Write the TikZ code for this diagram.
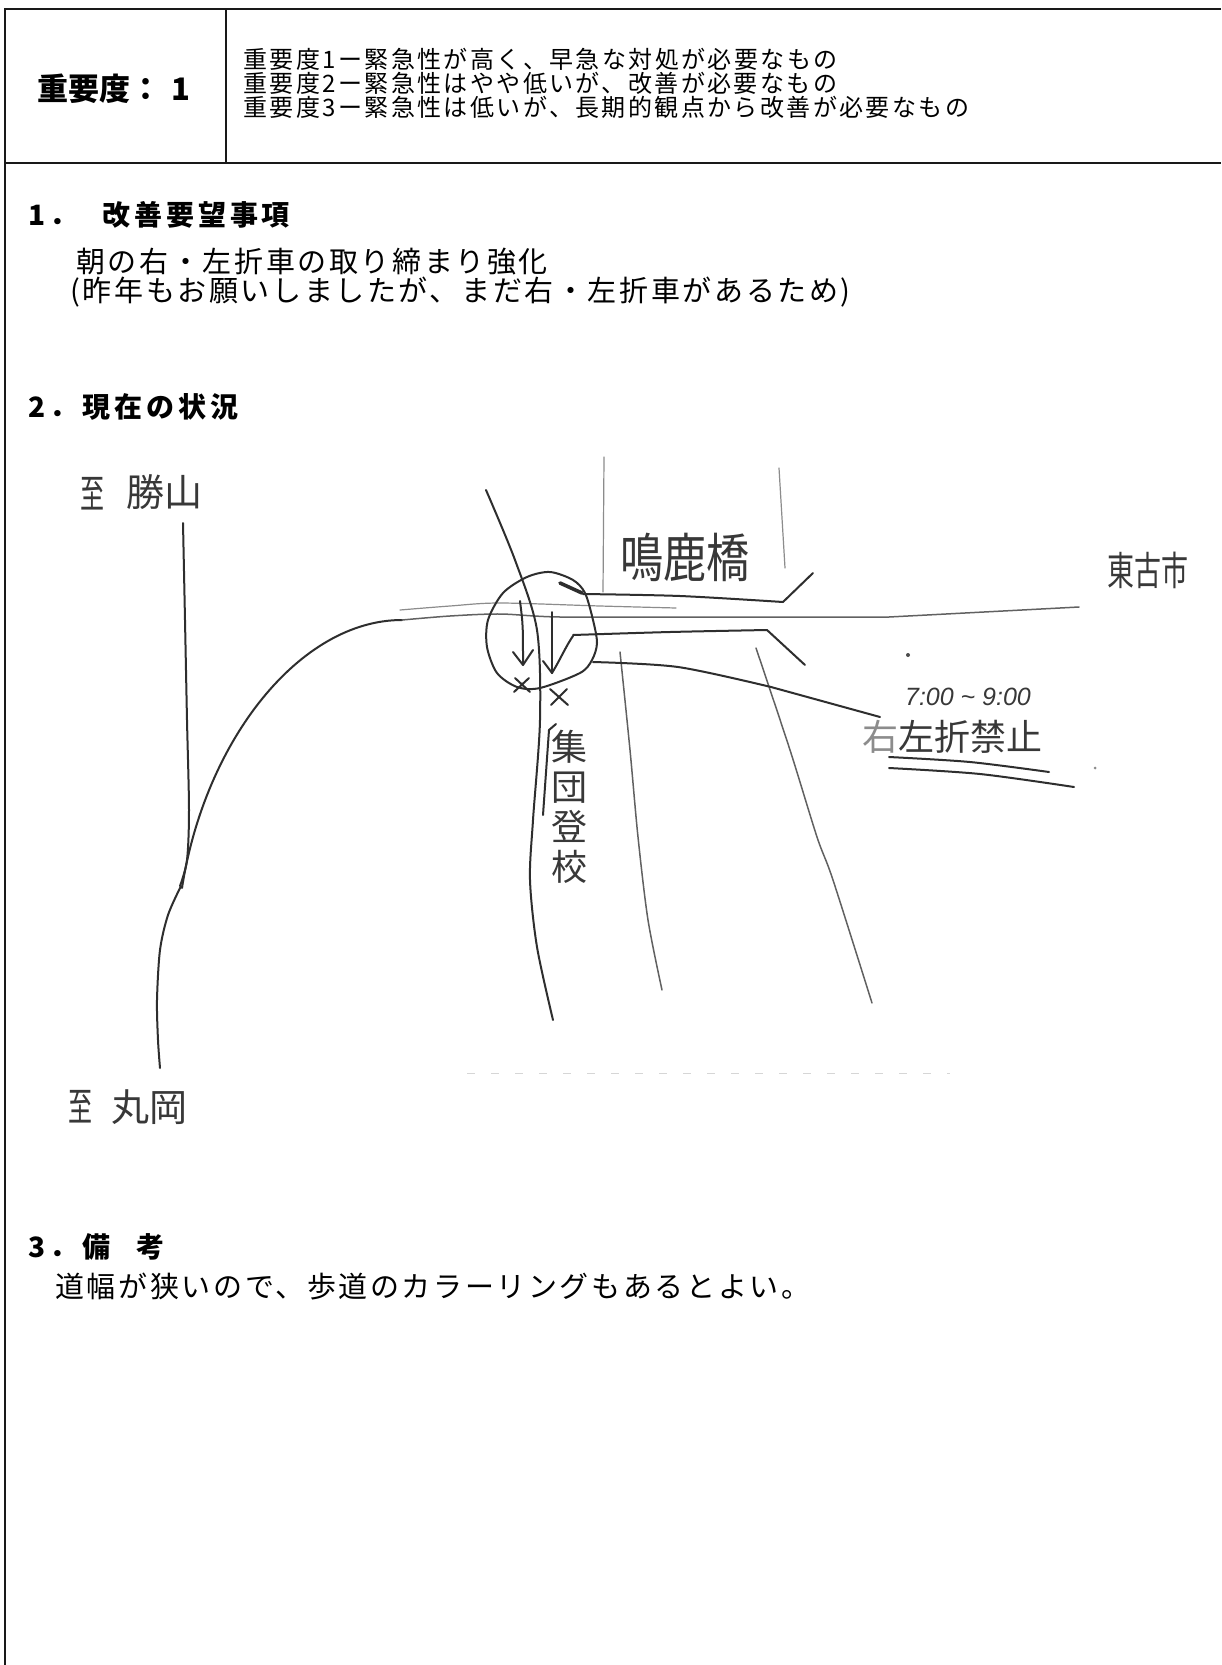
\documentclass[tikz,border=0pt]{standalone}
\usepackage{fontspec}
\setmainfont{Noto Sans CJK JP}
\newfontfamily\jpbody[LetterSpace=9]{Noto Sans CJK JP}
\newfontfamily\jphead[LetterSpace=14]{Noto Sans CJK JP}
\newfontfamily\jphdr[LetterSpace=10]{Noto Sans CJK JP}
\newfontfamily\jptitle{Noto Sans CJK JP}
\newfontfamily\jphand{Noto Sans CJK JP}
\newfontfamily\latinhand{Liberation Sans}
\tikzset{
  txt/.style={inner sep=0pt, anchor=base west},
  hand/.style={inner sep=0pt, text=black!78},
  dk/.style={draw=black!82, line width=1pt, line cap=round, line join=round},
  md/.style={draw=black!62, line width=0.75pt, line cap=round, line join=round},
  lt/.style={draw=black!45, line width=0.6pt, line cap=round, line join=round},
  frame/.style={draw=black!90, line width=1.3pt},
}
\begin{document}
\begin{tikzpicture}[x=0.5pt,y=-0.5pt]
\fill[white] (0,0) rectangle (1221,1665);
\useasboundingbox (0,0) rectangle (1221,1665);
% ---------- frame ----------
\draw[frame] (1221,9) -- (5,9) -- (5,1665);
\draw[frame] (5,163) -- (1221,163);
\draw[draw=black!90, line width=0.9pt] (226,9) -- (226,163);
% ---------- header ----------
\node[txt] (title) at (37,100.8) {\fontsize{15.5pt}{17pt}\jptitle\bfseries 重要度：\hspace{5pt}1};
\node[txt] (lv1) at (243,68.1) {\fontsize{12pt}{14pt}\jphdr 重要度1ー緊急性が高く、早急な対処が必要なもの};
\node[txt] (lv2) at (243,92.1) {\fontsize{12pt}{14pt}\jphdr 重要度2ー緊急性はやや低いが、改善が必要なもの};
\node[txt] (lv3) at (243,116.1) {\fontsize{12pt}{14pt}\jphdr 重要度3ー緊急性は低いが、長期的観点から改善が必要なもの};
% ---------- section 1 ----------
\node[txt] (h1n) at (28,225.6) {\fontsize{14pt}{16pt}\jphead\bfseries 1．};
\node[txt] (h1) at (102,225.6) {\fontsize{14pt}{16pt}\jphead\bfseries 改善要望事項};
\node[txt] (b1) at (76,272) {\fontsize{14.5pt}{16pt}\jpbody 朝の右・左折車の取り締まり強化};
\node[txt] (b2) at (70,301) {\fontsize{14.5pt}{16pt}\jpbody (昨年もお願いしましたが、まだ右・左折車があるため)};
% ---------- section 2 ----------
\node[txt] (h2n) at (28,417.6) {\fontsize{14pt}{16pt}\jphead\bfseries 2．};
\node[txt] (h2) at (82,417.6) {\fontsize{14pt}{16pt}\jphead\bfseries 現在の状況};
% ---------- section 3 ----------
\node[txt] (h3n) at (28,1257.6) {\fontsize{14pt}{16pt}\jphead\bfseries 3．};
\node[txt] (h3) at (82,1257.6) {\fontsize{14pt}{16pt}\jphead\bfseries 備\hspace{13pt}考};
\node[txt] (b3) at (55,1297) {\fontsize{14.5pt}{16pt}\jpbody 道幅が狭いので、歩道のカラーリングもあるとよい。};
% ---------- hand-drawn map ----------
% left road
\draw[dk] plot[smooth] coordinates {(183,523) (185,620) (187,720) (189,810) (187,860) (180,886)};
\draw[dk] (402,620) .. controls (300,620) and (205,740) .. (182,888);
\draw[dk] plot[smooth] coordinates {(181,886) (168,915) (160,950) (157,1000) (158,1040) (160,1068)};
% faint horizontal lines from the left
\draw[lt] plot[smooth] coordinates {(400,610) (450,606) (500,603) (600,606) (676,608)};
\draw[md] plot[smooth] coordinates {(402,620) (450,616) (500,614) (560,617) (700,617) (889,617)} -- (1079,607);
% diagonal road through the crossing
\draw[dk] plot[smooth] coordinates {(486,490) (515,560) (537,630) (540,720) (533,820) (530,880) (537,947) (553,1020)};
% light lines
\draw[lt] (604,457) -- (603,592);
\draw[lt] (779,468) -- (785,568);
\draw[md] plot[smooth] coordinates {(620,652) (630,750) (638,837) (648,920) (662,990)};
\draw[md] plot[smooth] coordinates {(756,648) (790,750) (817,837) (833,880) (872,1003)};
% circle round the crossing
\draw[dk] plot[smooth cycle] coordinates {(550,572) (573,580) (585,593) (593,620) (597,643) (592,660) (580,673) (540,688) (517,687) (497,673) (487,647) (488,620) (503,593) (527,577)};
% roads to the east
\draw[dk, line width=1.8pt] (560,583) -- (582,593);
\draw[dk] plot[smooth] coordinates {(583,594) (680,596) (783,602)} -- (813,573);
\draw[dk] plot[smooth] coordinates {(573,635) (670,632) (767,630)} -- (805,665);
\coordinate (lead) at (880,717);
\draw[dk] plot[smooth] coordinates {(593,662) (678,667) (771,687)} -- (lead);
% arrows and crosses in the circle
\draw[dk] (520,601) .. controls (523,625) .. (523,664);
\draw[dk] (513,652) -- (523,665) -- (533,650);
\draw[dk] (552,612) -- (552,673);
\draw[dk] (543,661) -- (552,673);
\draw[dk] (573,636) .. controls (566,646) and (560,660) .. (552,673);
\draw[dk] (515,678) -- (530,692) (514,692) -- (529,678);
\draw[dk] (550,689) -- (568,705) (551,705) -- (567,689);
% stroke beside the vertical label
\draw[dk] (543,815) -- (549,730) -- (556,724);
% underlines below the prohibition note
\draw[dk] plot[smooth] coordinates {(889,757) (970,762) (1049,772)};
\draw[dk] plot[smooth] coordinates {(889,768) (980,774) (1074,787)};
\fill[black!70] (908,655) circle[radius=2];
\fill[black!45] (1095,768) circle[radius=1.5];
% faint dotted trace
\draw[black!16, line width=0.5pt, dash pattern=on 4pt off 8pt] (467,1073) -- (950,1073);
% ---------- hand-written labels ----------
\node[hand] (k1) at (92,494) {\fontsize{20pt}{22pt}\jphand\scalebox{0.6}[1]{至}};
\node[hand] (k2) at (164,492) {\fontsize{19pt}{21pt}\jphand 勝山};
\node[hand] (naruka) at (685,557) {\fontsize{24pt}{26pt}\jphand\scalebox{0.9}[1.1]{鳴鹿橋}};
\node[hand] (higashi) at (1148,570) {\fontsize{18pt}{20pt}\jphand\scalebox{0.75}[1.1]{東古市}};
\node[hand] (time) at (968,697) {\fontsize{12.5pt}{14pt}\latinhand\itshape 7:00 \char`\~\ 9:00};
\node[hand] (kinshi) at (952,737) {\fontsize{18pt}{20pt}\jphand{\color{black!45}右}左折禁止};
\node[hand, align=center, font={\fontsize{18pt}{20pt}\jphand}] (shudan) at (569,807) {集\\団\\登\\校};
\node[hand] (m1) at (81,1107) {\fontsize{20pt}{22pt}\jphand\scalebox{0.6}[1]{至}};
\node[hand] (m2) at (149,1107) {\fontsize{19pt}{21pt}\jphand 丸岡};
\end{tikzpicture}
\end{document}
